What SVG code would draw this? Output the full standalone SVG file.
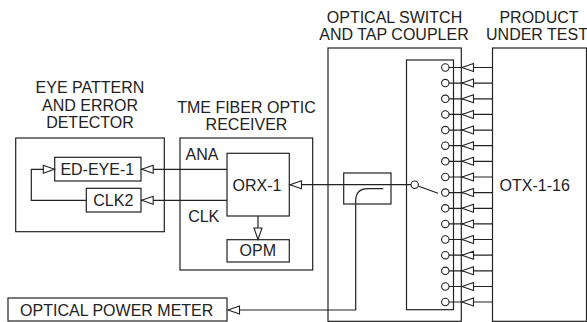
<svg xmlns="http://www.w3.org/2000/svg" width="587" height="322" viewBox="0 0 587 322">
<style>
rect{fill:none;stroke:#222;stroke-width:1.2}
.c line,.c path{fill:none;stroke:#222;stroke-width:1.2}
.p{fill:none;stroke:#222;stroke-width:1.1}
.c .t,.t{fill:#fff;stroke:#222;stroke-width:1.1}
text{font-family:"Liberation Sans",Arial,sans-serif;font-size:16px;fill:#222;text-anchor:middle}
</style>
<defs>
<path id="al" class="t" d="M0 0L11.500-4V4Z"/>
<g id="ch">
<circle class="p" cx="445.300" cy="0" r="3.700"/>
<line x1="449" y1="0" x2="492.500" y2="0" stroke="#222" stroke-width="1.200"/>
<use href="#al" x="462"/>
</g>
</defs>
<g id="labels">
<text x="90" y="92.800">EYE PATTERN</text>
<text x="90" y="110.500">AND ERROR</text>
<text x="90" y="128">DETECTOR</text>
<text x="246.500" y="112.800">TME FIBER OPTIC</text>
<text x="246.500" y="130">RECEIVER</text>
<text x="394.500" y="23">OPTICAL SWITCH</text>
<text x="394" y="40">AND TAP COUPLER</text>
<text x="539" y="23">PRODUCT</text>
<text x="537" y="40">UNDER TEST</text>
</g>
<g id="eye-detector"><rect x="15.700" y="138" width="148.600" height="93.700"/></g>
<g id="ed-eye-1"><rect x="54.700" y="157.300" width="86.300" height="23.700"/><text x="97.300" y="175">ED-EYE-1</text></g>
<g id="clk2"><rect x="86.300" y="188.300" width="54.700" height="23.700"/><text x="113.300" y="206">CLK2</text></g>
<g id="tme-receiver"><rect x="180" y="138" width="132.700" height="132"/>
<text x="202" y="159.500">ANA</text><text x="203.700" y="222">CLK</text></g>
<g id="orx-1"><rect x="227" y="153.300" width="62.300" height="62.700"/><text x="257" y="190.700">ORX-1</text></g>
<g id="opm"><rect x="227" y="239.700" width="62.300" height="22.300"/><text x="257.800" y="256.300">OPM</text></g>
<g id="optical-power-meter"><rect x="8" y="298" width="219" height="23"/><text x="116.700" y="315.700">OPTICAL POWER METER</text></g>
<g id="optical-switch"><rect x="328" y="48" width="133.300" height="273.300"/><rect x="406.500" y="60" width="47" height="249.700"/></g>
<g id="coupler"><rect x="343.700" y="173" width="47.300" height="31"/></g>
<g id="product"><rect x="492.500" y="48" width="94" height="273.300"/><text x="534.700" y="191">OTX-1-16</text></g>
<g id="connectors" class="c">
<line x1="141" y1="169.300" x2="227" y2="169.300"/>
<line x1="141" y1="200.300" x2="227" y2="200.300"/>
<path d="M86.300 200.300H31.300V169.300H44"/>
<use href="#al" x="141.700" y="169.300"/>
<use href="#al" x="141.700" y="200.300"/>
<path class="t" d="M54.500 169.300L43.300 165.300V173.300Z"/>
<line x1="290" y1="184.700" x2="411" y2="184.700"/>
<use href="#al" x="290" y="184.700"/>
<line x1="258" y1="216" x2="258" y2="228"/>
<path class="t" d="M258 239.500L254 228H262Z"/>
<path d="M383.300 188.700H368Q355.700 188.700 355.700 201V310H228"/>
<use href="#al" x="228" y="310"/>
<circle class="p" cx="414.700" cy="184.700" r="3.700"/>
<line x1="418.700" y1="186.300" x2="438" y2="193.300"/>
<use href="#ch" y="67.500"/><use href="#ch" y="83.100"/><use href="#ch" y="98.800"/><use href="#ch" y="114.400"/>
<use href="#ch" y="130.100"/><use href="#ch" y="145.700"/><use href="#ch" y="161.300"/><use href="#ch" y="177"/>
<use href="#ch" y="192.600"/><use href="#ch" y="208.300"/><use href="#ch" y="223.900"/><use href="#ch" y="239.500"/>
<use href="#ch" y="255.200"/><use href="#ch" y="270.800"/><use href="#ch" y="286.500"/><use href="#ch" y="302"/>
</g>
</svg>
